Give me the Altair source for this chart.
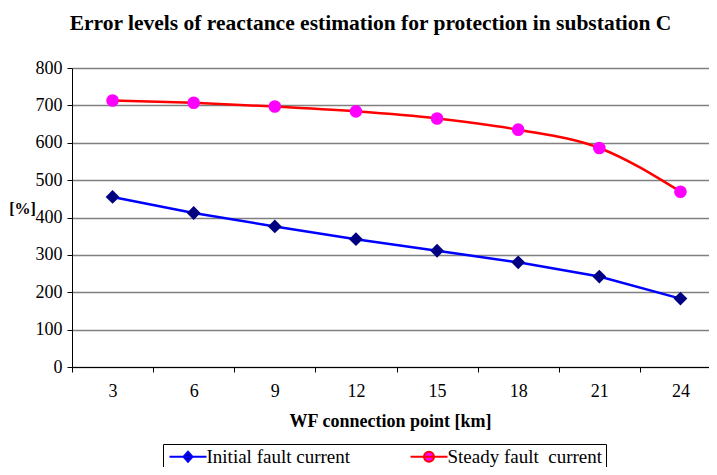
import altair as alt
import pandas as pd

km = [3, 6, 9, 12, 15, 18, 21, 24]
initial = [455, 412, 376, 342, 311, 280, 242, 183]
steady = [713, 707, 697, 684, 665, 635, 586, 469]
series_names = ["Initial fault current", "Steady fault\u00a0 current"]
y_ticks = [0, 100, 200, 300, 400, 500, 600, 700, 800]

line_colors = ["#0000FF", "#FF0000"]
marker_colors = ["#000080", "#FF00FF"]
legend_shapes = [
    "M-1,0H5.17M2.08,-0.83L2.83,0L2.08,0.83L1.33,0Z",
    "M-1,0H5.17M2.91,0A0.83,0.83,0,1,1,1.25,0A0.83,0.83,0,1,1,2.91,0Z",
]

df = pd.DataFrame({
    "km": km + km,
    "value": initial + steady,
    "series": [series_names[0]] * len(km) + [series_names[1]] * len(km),
})

FONT = "Liberation Serif"

x_enc = alt.X(
    "km:O", sort=km,
    scale=alt.Scale(type="band", paddingInner=0, paddingOuter=0),
    axis=alt.Axis(
        title="WF connection point [km]", labelAngle=0, tickBand="extent",
        grid=False, domainColor="black", tickColor="black", tickSize=5,
        labelFont=FONT, labelFontSize=18, labelColor="black", labelPadding=10,
        titleFont=FONT, titleFontSize=18, titleFontWeight="bold", titleColor="black",
        titleX=318, titleY=54, titleBaseline="middle",
    ),
)
y_enc = alt.Y(
    "value:Q",
    scale=alt.Scale(domain=[0, 800], nice=False),
    axis=alt.Axis(
        title="[%]", values=y_ticks, grid=True, gridColor="#808080", gridWidth=1.5,
        domainColor="black", tickColor="black", tickSize=5,
        labelFont=FONT, labelFontSize=18, labelColor="black", labelPadding=5,
        titleFont=FONT, titleFontSize=16, titleFontWeight="bold", titleColor="black",
        titleAngle=0, titleX=-50, titleY=140, titleAlign="center", titleBaseline="middle",
    ),
)

base = alt.Chart(df)

init_line = base.transform_filter(alt.datum.series == series_names[0]).mark_line(
    color=line_colors[0], strokeWidth=2.5
).encode(x=x_enc, y=y_enc)

steady_line = base.transform_filter(alt.datum.series == series_names[1]).mark_line(
    color=line_colors[1], strokeWidth=2.5, interpolate="monotone"
).encode(x=x_enc, y=y_enc)

init_pts = base.transform_filter(alt.datum.series == series_names[0]).mark_point(
    shape="diamond", filled=True, color=marker_colors[0], size=190, opacity=1
).encode(x=x_enc, y=y_enc)

steady_pts = base.transform_filter(alt.datum.series == series_names[1]).mark_point(
    shape="circle", filled=True, color=marker_colors[1], size=160, opacity=1
).encode(x=x_enc, y=y_enc)

legend_layer = base.mark_point(filled=True, size=0).encode(
    x=x_enc, y=y_enc,
    shape=alt.Shape("series:N", scale=alt.Scale(domain=series_names, range=legend_shapes),
                    legend=alt.Legend(title=None)),
    fill=alt.Fill("series:N", scale=alt.Scale(domain=series_names, range=marker_colors),
                  legend=alt.Legend(title=None)),
    stroke=alt.Stroke("series:N", scale=alt.Scale(domain=series_names, range=line_colors),
                      legend=alt.Legend(title=None)),
)

chart = alt.layer(init_line, steady_line, init_pts, steady_pts, legend_layer).properties(
    width=649, height=299,
    autosize=alt.AutoSizeParams(type="none"),
    padding={"left": 64, "top": 60, "right": -12, "bottom": 100},
    title=alt.TitleParams(
        "Error levels of reactance estimation for protection in substation C",
        font=FONT, fontSize=21.5, fontWeight="bold", color="black",
        anchor="middle", offset=25, dx=-26,
    ),
).configure_view(stroke=None).configure_legend(
    orient="none", legendX=91, legendY=376, direction="horizontal",
    strokeColor="black", padding=3, fillColor="white",
    labelFont=FONT, labelFontSize=19, labelColor="black", labelOffset=21.5, labelLimit=0,
    symbolSize=144, symbolStrokeWidth=2, symbolOpacity=1, columnPadding=56,
)

chart.save("out.html", embed_options={"renderer": "svg", "actions": False})
